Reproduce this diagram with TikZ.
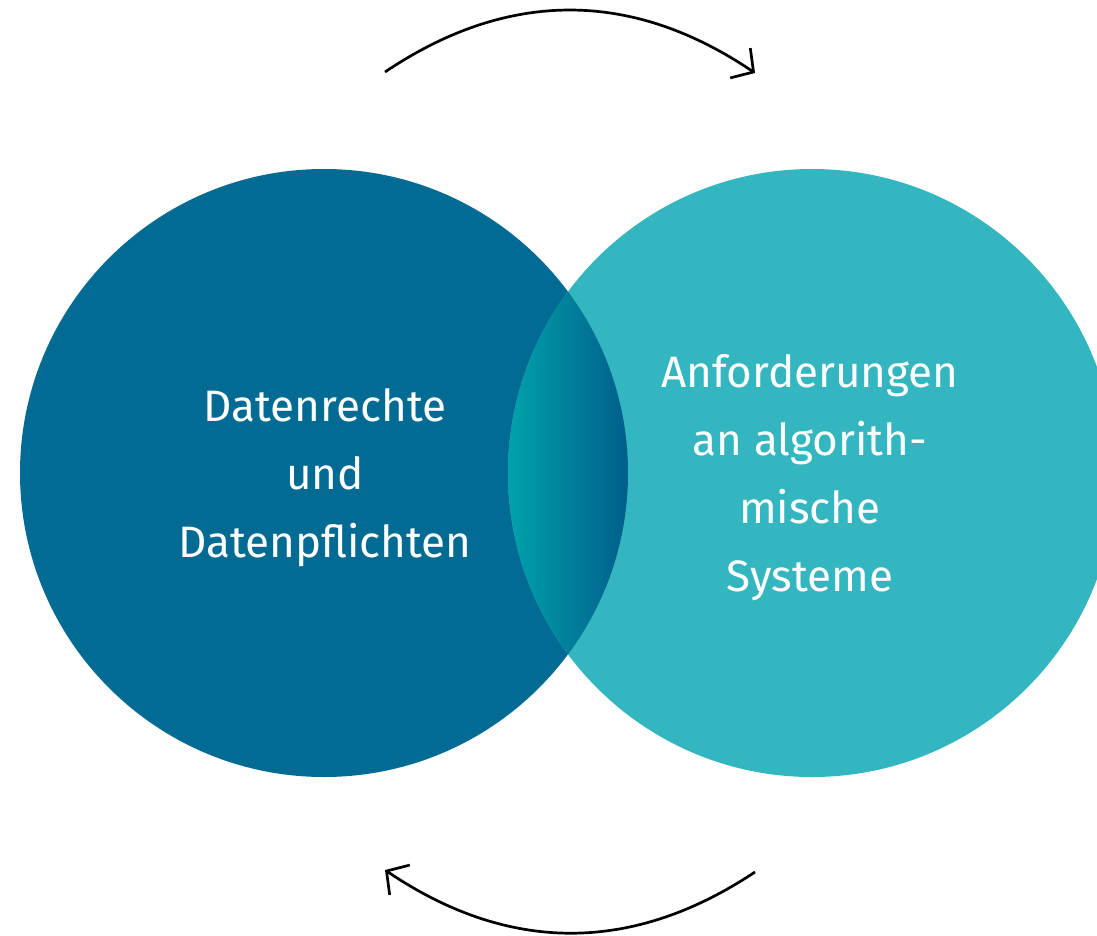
\documentclass[tikz,border=0pt]{standalone}
\usepackage{fontspec}
\setmainfont{Fira Sans}
\usetikzlibrary{arrows.meta}
\definecolor{darkblue}{HTML}{026B94}
\definecolor{lightteal}{HTML}{33B6BF}
\definecolor{lensleft}{HTML}{00A2AC}
\definecolor{lensright}{HTML}{005E8B}
\tikzset{
  circlelabel/.style={text=white, align=center, font=\fontsize{44}{68}\selectfont},
  cyclearrow/.style={line width=2.7pt, black, -{Straight Barb[length=16pt,width=36pt,line width=2.7pt]}}
}
\begin{document}
\begin{tikzpicture}[x=1pt,y=-1pt]
\useasboundingbox (0,0) rectangle (1097,936);
\clip (0,0) rectangle (1097,936);
% circles
\fill[darkblue] (324,473) circle[radius=304];
\fill[lightteal] (812,473) circle[radius=304];
% overlap lens
\begin{scope}
  \clip (324,473) circle[radius=304];
  \clip (812,473) circle[radius=304];
  \shade[left color=lensleft, right color=lensright] (508,160) rectangle (628,790);
\end{scope}
% labels
\node[circlelabel] (left) at (325,478) {Datenrechte\\und\\Datenpflichten};
\node[circlelabel] (right) at (810,478) {Anforderungen\\an algorith-\\mische\\Systeme};
% arrows
\coordinate (t1) at (385,72);
\coordinate (t2) at (755,73);
\coordinate (b1) at (755,872);
\coordinate (b2) at (385,870);
\draw[cyclearrow] (t1) .. controls (508,-10.7) and (631.7,-10.3) .. (t2);
\draw[cyclearrow] (b1) .. controls (631.7,954) and (508.3,953.3) .. (b2);
\end{tikzpicture}
\end{document}
